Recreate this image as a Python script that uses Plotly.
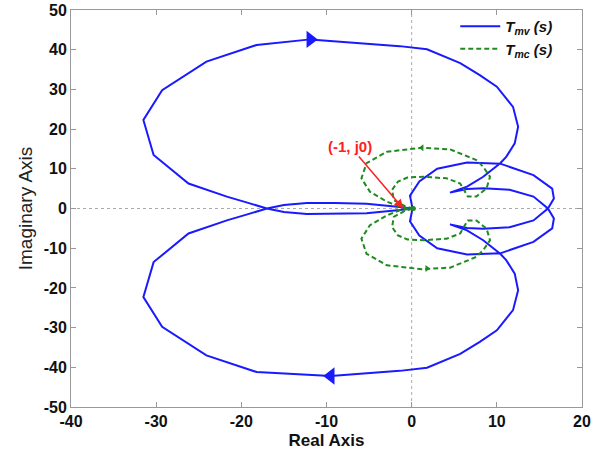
import plotly.graph_objects as go

# ---- data ----
blue_re = [0.0, -1.4, -5.3, -9.0, -12.3, -15.0, -17.0, -19.5, -21.7, -26.2, -30.3, -31.5, -29.3, -24.1,
           -18.2, -11.9, -1.4, 1.8, 5.7, 8.0, 10.0, 11.9, 12.5, 12.1, 11.1, 10.4, 8.4, 6.5, 4.5,
           6.5, 8.4, 11.5, 14.3, 16.0,
           16.7, 16.5, 14.3, 10.4, 6.5, 3.0, 0.9, -0.2, 0.1,
           -0.2, 0.9, 3.0, 6.5, 10.4, 14.3, 16.5, 16.7, 16.0,
           14.3, 11.5, 8.4, 6.5, 4.5,
           6.5, 8.4, 10.4, 11.1, 12.1, 12.5, 11.9, 10.0, 8.0, 5.7, 1.8, -1.4, -9.5, -18.2, -24.1,
           -29.3, -31.5, -30.3, -26.2, -21.7, -19.5, -17.0, -15.0, -12.3, -9.0, -5.3, -1.4, 0.0]
blue_im = [0.0, -0.4, -1.2, -1.4, -1.4, -0.9, 0.0, 1.6, 3.0, 6.3, 13.5, 22.3, 29.8, 37.0,
           41.2, 42.6, 40.9, 40.1, 36.6, 33.6, 30.7, 25.6, 20.6, 16.4, 13.0, 11.4, 8.0, 5.5, 4.0,
           4.9, 5.1, 4.7, 3.0, 0.0,
           -2.5, -5.0, -8.4, -11.3, -11.6, -10.0, -6.8, -3.2, 0.0,
           3.2, 6.8, 10.0, 11.6, 11.3, 8.4, 5.0, 2.5, 0.0,
           -3.0, -4.7, -5.1, -4.9, -4.0,
           -5.5, -8.0, -11.4, -13.0, -16.4, -20.6, -25.6, -30.7, -33.6, -36.6, -40.1, -40.9, -42.2, -41.2, -37.0,
           -29.8, -22.3, -13.5, -6.3, -3.0, -1.6, 0.0, 0.9, 1.4, 1.4, 1.2, 0.4, 0.0]

green_re = [0.2, -0.8, -2.1, -2.3, -1.6, -0.5, 1.4, 4.1, 5.7, 6.1, 6.6, 7.6, 8.8, 9.2, 8.4, 7.6, 4.5, 1.2,
            -2.9, -5.3, -5.9, -4.9, -2.9, -1.2, 0.2,
            -1.2, -2.9, -4.9, -5.9, -5.3, -2.9, 1.2, 4.5, 7.6, 8.4, 9.2, 8.8, 7.6, 6.6, 6.1, 5.7, 4.1, 1.4,
            -0.5, -1.6, -2.3, -2.1, -0.8, 0.2]
green_im = [0.0, 0.6, 2.1, 4.7, 6.8, 7.8, 8.0, 7.6, 6.3, 4.7, 3.0, 3.0, 5.1, 8.0, 10.5, 12.2, 14.9, 15.3,
            14.3, 11.4, 7.6, 4.2, 1.7, 0.3, 0.0,
            -0.3, -1.7, -4.2, -7.6, -11.4, -14.3, -15.3, -14.9, -12.2, -10.5, -8.0, -5.1, -3.0, -3.0, -4.7, -6.3, -7.6, -8.0,
            -7.8, -6.8, -4.7, -2.1, -0.6, 0.0]

blue_arrow_re = [-11.9, -9.5]
blue_arrow_im = [42.6, -42.2]
blue_arrow_sym = ["triangle-right", "triangle-left"]
green_arrow_re = [1.2, 1.8]
green_arrow_im = [15.3, -15.1]
green_arrow_sym = ["triangle-left", "triangle-right"]

critical_re, critical_im = -1.0, 0.0
label_re, label_im = -7.2, 15.6
x_ticks = [-40, -30, -20, -10, 0, 10, 20]
y_ticks = [-50, -40, -30, -20, -10, 0, 10, 20, 30, 40, 50]

FONT = "Liberation Sans, Arial, sans-serif"
BLUE = "#1a1aff"
GREEN = "#1f8a1f"

fig = go.Figure()
fig.add_trace(go.Scatter(x=blue_re, y=blue_im, mode="lines", line=dict(color=BLUE, width=2),
                         name="<b><i>T</i><sub><i>mv</i></sub><i> (s)</i></b>"))
fig.add_trace(go.Scatter(x=green_re, y=green_im, mode="lines",
                         line=dict(color=GREEN, width=2, dash="5px,3px"),
                         name="<b><i>T</i><sub><i>mc</i></sub><i> (s)</i></b>"))
fig.add_trace(go.Scatter(x=blue_arrow_re, y=blue_arrow_im, mode="markers", showlegend=False,
                         marker=dict(symbol=blue_arrow_sym, size=15, color=BLUE)))
fig.add_trace(go.Scatter(x=green_arrow_re, y=green_arrow_im, mode="markers", showlegend=False,
                         marker=dict(symbol=green_arrow_sym, size=6, color=GREEN)))
fig.add_trace(go.Scatter(x=[0.2], y=[0.0], mode="markers", showlegend=False,
                         marker=dict(symbol="circle", size=5, color=GREEN)))

# dotted zero lines
fig.add_shape(type="line", xref="x", yref="paper", x0=0, x1=0, y0=0, y1=1,
              line=dict(color="#aaaaaa", width=1, dash="dot"), layer="below")
fig.add_shape(type="line", xref="paper", yref="y", x0=0, x1=1, y0=0, y1=0,
              line=dict(color="#aaaaaa", width=1, dash="dot"), layer="below")

fig.add_annotation(x=critical_re, y=critical_im, ax=label_re, ay=label_im, axref="x", ayref="y",
                   text="<b>(-1, j0)</b>", showarrow=True, arrowhead=2, arrowsize=1.2,
                   arrowwidth=1.5, arrowcolor="#ff2020",
                   font=dict(family=FONT, size=15, color="#ff2020"))

axis_common = dict(showline=True, linecolor="#999999", linewidth=1, mirror="allticks",
                   ticks="inside", ticklen=5, tickcolor="#999999", showgrid=False, zeroline=False,
                   automargin=False,
                   tickfont=dict(family=FONT, size=16, color="#111111", weight="bold"))
fig.update_xaxes(range=[-40, 20], tickvals=x_ticks, ticktext=[str(v) for v in x_ticks],
                 title=dict(text="Real Axis", font=dict(family=FONT, size=17, color="#111111", weight="bold"),
                            standoff=4),
                 **axis_common)
fig.update_yaxes(range=[-50, 50], tickvals=y_ticks, ticktext=[str(v) for v in y_ticks],
                 title=dict(text="Imaginary Axis", font=dict(family=FONT, size=19, color="#222222"),
                            standoff=6),
                 **axis_common)

fig.update_layout(width=606, height=457, margin=dict(l=71, r=24, t=10, b=50),
                  plot_bgcolor="white", paper_bgcolor="white",
                  legend=dict(x=0.752, y=1.0, xanchor="left", yanchor="top", bgcolor="rgba(0,0,0,0)",
                              borderwidth=0, font=dict(family=FONT, size=15, color="#111111"),
                              tracegroupgap=0, itemwidth=40),
                  showlegend=True)

fig.write_html("out.html", config={"displayModeBar": False},
               post_script="document.body.style.margin='0';")
